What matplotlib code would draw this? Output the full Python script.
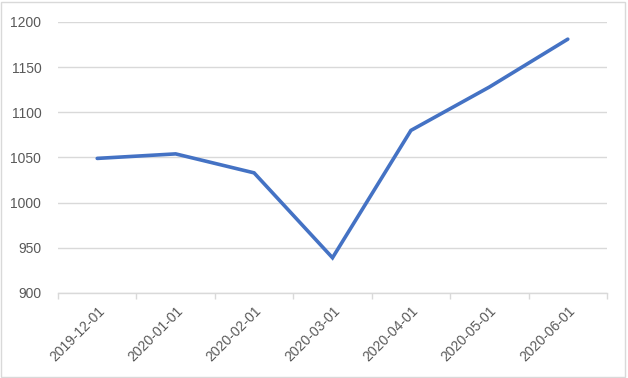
import matplotlib
matplotlib.use("Agg")
import matplotlib.pyplot as plt
from matplotlib.patches import Rectangle

dates = ["2019-12-01", "2020-01-01", "2020-02-01", "2020-03-01",
         "2020-04-01", "2020-05-01", "2020-06-01"]
values = [1049, 1054, 1033, 939, 1080, 1128, 1181]
yticks = [900, 950, 1000, 1050, 1100, 1150, 1200]

plt.rcParams['font.family'] = ['Liberation Sans', 'DejaVu Sans']

fig = plt.figure(figsize=(6.28, 3.78), dpi=100)
ax = fig.add_axes([58/628, 1-293/378, (607-58)/628, (293-22)/378])

x = list(range(len(dates)))
ax.plot(x, values, color="#4472C4", linewidth=2.6, solid_capstyle="round",
        solid_joinstyle="miter", zorder=3)

ax.set_xlim(-0.5, len(dates) - 0.5)
ax.set_ylim(900, 1200)
ax.set_yticks(yticks)
ax.set_yticklabels([str(v) for v in yticks])
ax.grid(axis="y", color="#D9D9D9", linewidth=1.0)
ax.set_axisbelow(True)

for s in ["top", "right", "left"]:
    ax.spines[s].set_visible(False)
ax.spines["bottom"].set_color("#D9D9D9")
ax.spines["bottom"].set_linewidth(1.0)

ax.set_xticks([i - 0.5 for i in range(len(dates) + 1)])
ax.set_xticklabels([])
ax.set_xticks(x, minor=True)
ax.set_xticklabels(dates, minor=True, rotation=45, ha="right",
                   rotation_mode="anchor", fontsize=10, color="#595959")
ax.tick_params(axis="x", which="major", length=4, color="#D9D9D9", width=1)
ax.tick_params(axis="x", which="minor", length=0, pad=8)
ax.tick_params(axis="y", length=0, labelsize=10, labelcolor="#595959", pad=12)

fig.patches.append(Rectangle((0.002, 0.003), 0.994, 0.993, transform=fig.transFigure,
                             fill=False, edgecolor="#D9D9D9", linewidth=1.0))

fig.savefig("out.png", dpi=100, facecolor="white")
